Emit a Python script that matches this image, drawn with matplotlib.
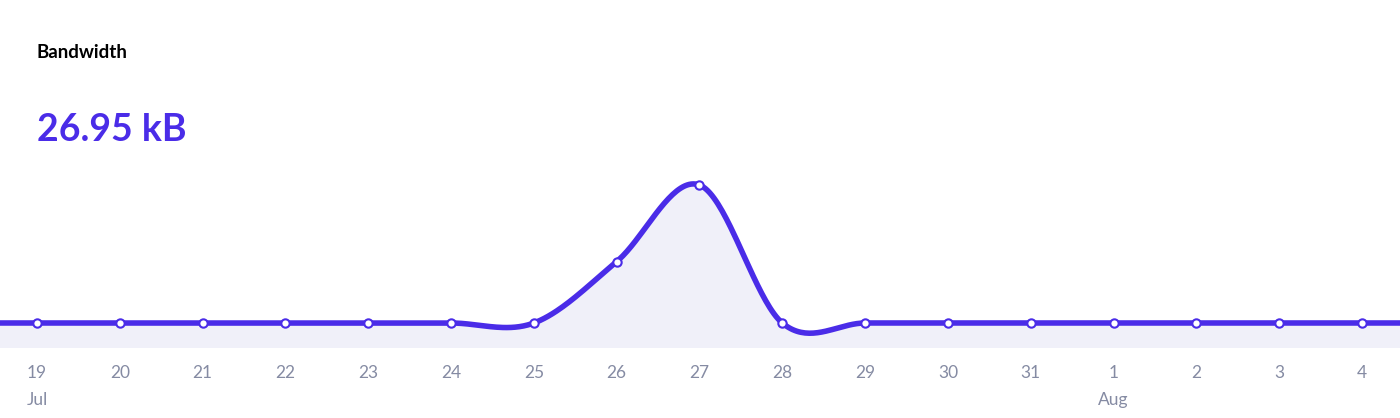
import numpy as np
import matplotlib.pyplot as plt

days = ["19", "20", "21", "22", "23", "24", "25", "26", "27", "28", "29", "30", "31", "1", "2", "3", "4"]
months = {0: "Jul", 13: "Aug"}
values = [0, 0, 0, 0, 0, 0, 0, 8.3, 18.65, 0, 0, 0, 0, 0, 0, 0, 0]  # kB

LINE = "#4a2ce8"
FILL = "#f0f0f9"
GREY = "#858ba3"


def catmull_rom(x, y, n=40):
    # smooth curve through the points, like the web chart's spline
    px = np.concatenate([[2 * x[0] - x[1]], x, [2 * x[-1] - x[-2]]])
    py = np.concatenate([[y[0]], y, [y[-1]]])
    xs, ys = [], []
    for i in range(1, len(px) - 2):
        t = np.linspace(0, 1, n, endpoint=False)
        for arr, out in ((px, xs), (py, ys)):
            p0, p1, p2, p3 = arr[i - 1:i + 3]
            out.append(0.5 * ((2 * p1) + (-p0 + p2) * t
                              + (2 * p0 - 5 * p1 + 4 * p2 - p3) * t ** 2
                              + (-p0 + 3 * p1 - 3 * p2 + p3) * t ** 3))
    xs.append([x[-1]]); ys.append([y[-1]])
    return np.concatenate(xs), np.concatenate(ys)


x = np.arange(len(days), dtype=float)
y = np.array(values, dtype=float)
xe = np.concatenate([[-0.5], x, [x[-1] + 0.5]])
ye = np.concatenate([[y[0]], y, [y[-1]]])
sx, sy = catmull_rom(xe, ye)

fig = plt.figure(figsize=(14, 4.18), dpi=100)
ax = fig.add_axes([0, 70 / 418, 1, 178 / 418])
ax.fill_between(sx, sy, -10, color=FILL, lw=0)
ax.plot(sx, sy, color=LINE, lw=4, solid_capstyle="round")
ax.plot(x, y, "o", ms=6, mfc="white", mec=LINE, mew=1.5)
ax.set_xlim(-37 / 82.8, x[-1] + 38 / 82.8)
ax.set_ylim(-3.38, 20.68)
ax.axis("off")

for i, d in enumerate(days):
    xf = ax.transData.transform((x[i], 0))[0] / 1400
    fig.text(xf, 1 - 373 / 418, d, ha="center", va="center", color=GREY, fontsize=12.5, family="Lato")
    if i in months:
        fig.text(xf, 1 - 400 / 418, months[i], ha="center", va="center", color=GREY, fontsize=12.5, family="Lato")

fig.text(37 / 1400, 1 - 52 / 418, "Bandwidth", ha="left", va="center", fontsize=13.5, weight="bold", family="Lato")
fig.text(37 / 1400, 1 - 130 / 418, "26.95 kB", ha="left", va="center", fontsize=27, weight="bold",
         color=LINE, family="Lato")

fig.savefig("out.png", dpi=100)
